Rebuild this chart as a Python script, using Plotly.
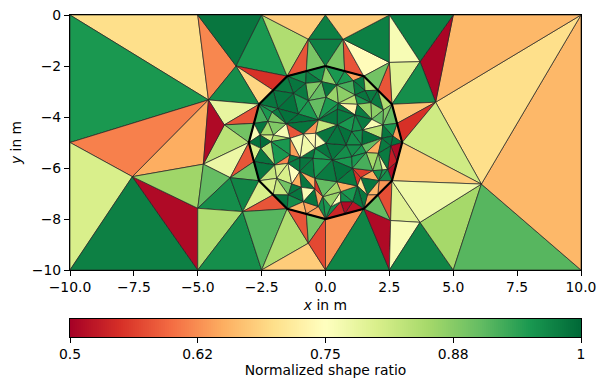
import plotly.graph_objects as go
from plotly.colors import sample_colorscale

# mesh nodes, metres
boundary_nodes = {
    "c0": (-10, 0), "c1": (-5, 0), "c2": (-2.5, 0), "c3": (0, 0), "c4": (2.5, 0), "c5": (5, 0), "c6": (10, 0),
    "c7": (10, -10), "c8": (5, -10), "c9": (2.5, -10), "c10": (0, -10), "c11": (-2.5, -10), "c12": (-5, -10),
    "c13": (-10, -10), "c14": (-10, -5),
}
outer_nodes = {
    "A": (-4.58, -3.33), "B": (-3.5, -2.0), "C": (-0.67, -0.95), "C2": (0.69, -0.95),
    "D": (-7.56, -6.34), "E": (-4.78, -5.85), "F": (-3.96, -4.31), "G": (-3.73, -6.38), "H": (-5.0, -7.58),
    "J": (-3.24, -7.71), "K": (-0.67, -8.95), "L": (2.55, -8.06), "O": (3.7, -8.13), "Q": (6.1, -6.63),
    "R": (4.31, -3.42), "S": (3.7, -1.83), "T": (2.5, -1.86),
}
circle_nodes = {
    "P0": (0, -2), "M1": (0.75, -2.2), "P1": (1.5, -2.4), "M2": (2.05, -2.95), "P2": (2.6, -3.5), "M3": (2.8, -4.25),
    "P3": (3, -5), "M4": (2.8, -5.75), "P4": (2.6, -6.5), "M5": (2.05, -7.05), "P5": (1.5, -7.6), "M6": (0.75, -7.8),
    "P6": (0, -8), "M7": (-0.75, -7.8), "P7": (-1.5, -7.6), "M8": (-2.05, -7.05), "P8": (-2.6, -6.5), "M9": (-2.8, -5.75),
    "P9": (-3, -5), "M10": (-2.8, -4.25), "P10": (-2.6, -3.5), "M11": (-2.05, -2.95), "P11": (-1.5, -2.4), "M0": (-0.75, -2.2),
}
inner_nodes = {
    "i1": (-0.775, -2.68), "i2": (-0.149, -2.615), "i3": (0.438, -2.745), "i4": (1.091, -2.575), "i5": (1.548, -2.967),
    "i6": (-1.258, -3.072), "i7": (-0.671, -3.36), "i8": (0.021, -3.229), "i9": (0.504, -3.464), "i10": (1.156, -3.137),
    "i11": (1.77, -3.438), "i12": (2.266, -3.726), "i13": (-1.858, -3.673), "i14": (-1.062, -3.882), "i15": (-0.279, -4.118),
    "i16": (0.465, -3.699), "i17": (1.156, -3.922), "i17a": (1.248, -3.503), "i18a": (1.809, -4.091), "i19": (2.239, -4.314),
    "i19b": (2.631, -4.745), "i20": (-2.25, -4.17), "i20b": (-2.093, -3.804), "i22": (-1.532, -4.261), "i23": (-2.041, -4.706),
    "i24": (0.465, -4.314), "i25": (1.443, -4.51), "i25b": (1.026, -4.575), "i26": (0.804, -5.098), "i27": (0.021, -5.033),
    "i27a": (-0.41, -5.229), "i28": (2.2, -4.836), "i30": (-2.563, -4.706), "i31": (-2.132, -4.967), "i33": (-1.389, -4.836),
    "i33b": (-1.389, -5.49), "i34": (-0.866, -4.667), "i34b": (-0.997, -5.595), "i34c": (-1.01, -6.143), "i35": (-0.384, -4.64),
    "i35p": (-0.488, -5.621), "i36": (0.269, -5.686), "i37": (1.026, -5.555), "i37a": (1.417, -5.098), "i37b": (1.587, -5.398),
    "i38a": (2.07, -5.425), "i39": (2.553, -5.137), "i40": (-2.537, -5.229), "i41": (-1.989, -5.882), "i42": (-1.467, -5.817),
    "i43": (-0.423, -6.405), "i44": (0.438, -6.536), "i45": (1.052, -6.013), "i46": (1.848, -6.104), "i46b": (2.226, -6.078),
    "i47p": (2.435, -6.052), "i48": (-1.91, -6.405), "i49": (-1.323, -6.627), "i50": (-0.423, -6.823), "i51": (-0.945, -6.758),
    "i52": (-0.11, -7.124), "i53": (0.595, -6.928), "i54": (1.378, -6.379), "i55": (2.096, -6.496), "i56": (1.639, -7.058),
    "i58": (0.595, -7.32), "i59": (1.248, -6.705), "i60": (1.065, -7.32), "i61": (0.204, -7.516), "k1": (-1.454, -7.058),
    "k2": (-0.866, -7.32), "k4": (-0.279, -7.516),
}

# triangles: three nodes and the shape ratio
outer_triangles = [
    ("c0","c1","A",.70), ("c0","A","c14",.95), ("c14","A","D",.615), ("A","D","E",.65), ("c14","D","c13",.80),
    ("D","c13","c12",.975), ("D","c12","H",.51), ("D","E","H",.855), ("c1","B","A",.62), ("c1","c2","B",.985),
    ("c2","B","P11",.95), ("c2","C","P11",.84), ("c2","c3","C",.68), ("C","P11","M0",.58), ("C","M0","P0",.885),
    ("C","C2","P0",.975), ("c3","C","C2",.975), ("C2","P0","M1",.885),
    ("C2","M1","P1",.58), ("C2","P1","T",.745), ("C2","c4","T",.975), ("c3","C2","c4",.68),
    ("B","P11","M11",.55), ("B","M11","P10",.69), ("B","P10","A",.96), ("A","P10","F",.78), ("F","P10","M10",.58),
    ("F","M10","P9",.89), ("F","P9","E",.83), ("A","F","E",.51), ("E","P9","G",.775), ("P9","G","M9",.58),
    ("G","M9","P8",.89), ("E","G","H",.90), ("G","H","J",.96), ("G","J","P8",.97), ("H","J","c12",.84),
    ("J","c12","c11",.96), ("J","P8","M8",.80), ("J","M8","P7",.58), ("J","P7","c11",.91), ("c11","P7","K",.84),
    ("c11","K","c10",.68), ("P7","K","M7",.58), ("M7","K","P6",.885), ("K","P6","c10",.57), ("P6","c10","P5",.63),
    ("c10","c9","P5",.97), ("P5","c9","L",.51), ("P5","L","M5",.90), ("M5","L","P4",.575), ("P4","L","O",.79),
    ("L","O","c9",.76), ("O","c9","c8",.97), ("O","c8","Q",.85), ("c8","Q","c7",.91), ("Q","c7","c6",.66),
    ("Q","c6","R",.70), ("R","c6","c5",.66), ("R","c5","S",.505), ("c4","c5","S",.975), ("c4","S","T",.76),
    ("T","S","P2",.79), ("S","R","P2",.96), ("T","P2","M2",.58), ("P1","T","M2",.89), ("P2","R","M3",.675),
    ("M3","R","P3",.55), ("P3","R","Q",.81), ("P3","Q","P4",.68), ("P4","Q","O",.77),
]
inner_triangles = [
    ("P11","M0","i1",.96), ("M0","P0","i2",.96), ("M0","i2","i1",.98), ("P0","i3","i2",.87), ("P0","M1","i3",.95),
    ("M1","i4","i3",.95), ("M1","P1","i4",.64), ("P1","i5","i4",.98), ("P1","M2","i5",.84), ("M2","i11","i5",.98),
    ("M2","i12","i11",.98), ("M2","P2","i12",.84), ("P2","M3","i19",.90), ("P2","i19","i12",.88),
    ("P11","i1","i6",.985), ("M11","P11","i6",.98), ("i1","i2","i7",.88), ("i2","i8","i7",.90), ("i2","i3","i8",.985),
    ("i3","i9","i8",.86), ("i3","i4","i10",.92), ("i3","i10","i9",.87), ("i4","i5","i10",.98), ("i5","i11","i10",.985),
    ("i1","i7","i6",.98), ("M11","i6","i13",.985), ("P10","M11","i13",.985), ("i6","i7","i14",.95), ("i6","i14","i13",.99),
    ("i7","i8","i15",.90), ("i7","i15","i14",.95), ("i8","i9","i15",.95), ("i9","i16","i15",.96), ("i9","i10","i17a",.83),
    ("i9","i17a","i17",.73), ("i9","i17","i16",.98), ("i10","i11","i17a",.95), ("i11","i12","i18a",.87), ("i17a","i11","i18a",.86),
    ("i17a","i18a","i17",.98), ("i12","i19","i18a",.90), ("i18a","i19","i25",.76), ("i25","i19","i28",.83), ("i17","i18a","i25",.98),
    ("M3","i19b","P3",.64), ("M3","i19","i19b",.95), ("i19","i28","i19b",.985), ("i19b","i39","P3",.99), ("i19b","i28","i39",.985),
    ("P3","M4","i39",.51), ("M4","P4","i47p",.51), ("M4","i47p","i39",.53),
    ("i15","i16","i24",.985), ("i16","i17","i24",.98), ("i17","i25b","i24",.95), ("i17","i25","i25b",.96), ("i24","i25b","i26",.99),
    ("i25","i28","i37a",.99), ("i25b","i25","i37a",.96), ("i25b","i37a","i26",.96), ("i28","i37b","i37a",.90), ("i28","i38a","i37b",.65),
    ("i28","i39","i38a",.98), ("i37a","i37b","i37",.95), ("i26","i37a","i37",.96), ("i37b","i38a","i46",.85), ("i38a","i46b","i46",.88),
    ("i38a","i47p","i46b",.78), ("i38a","i39","i47p",.98), ("i45","i46","i54",.56), ("i45","i54","i59",.55), ("i54","i46","i55",.65),
    ("i46","i46b","i55",.96), ("i46b","i47p","i55",.95), ("i47p","P4","i55",.96), ("i54","i55","i56",.985), ("i54","i56","i59",.70),
    ("i55","P4","M5",.63), ("i55","M5","i56",.66), ("M5","P5","i56",.64), ("i59","i56","P5",.985), ("i59","P5","i60",.985),
    ("i60","P5","M6",.52), ("i60","M6","i58",.51), ("i58","M6","P6",.54), ("i61","i58","P6",.96), ("i52","i61","P6",.95),
    ("i53","i58","i61",.76), ("i52","i53","i61",.86), ("i53","i60","i58",.96), ("i53","i59","i60",.95), ("i44","i59","i53",.65),
    ("i44","i45","i59",.98), ("i44","i53","i52",.85), ("i43","i44","i52",.90), ("i36","i37","i45",.95), ("i36","i45","i44",.99),
    ("i26","i37","i36",.96), ("i27","i26","i36",.985), ("i37","i37b","i45",.95), ("i37b","i46","i45",.92), ("i24","i26","i27",.985),
    ("i14","i15","i22",.99), ("i22","i15","i34",.985), ("i15","i35","i34",.63), ("i15","i24","i35",.82), ("i35","i24","i27",.985),
    ("i35","i27","i27a",.76), ("i27","i36","i27a",.985), ("i27a","i36","i35p",.95), ("i27a","i35p","i34b",.985), ("i34","i35","i27a",.74),
    ("i34","i27a","i34b",.77), ("i22","i34","i33",.58), ("i33","i34","i34b",.76), ("i33","i34b","i33b",.64), ("i22","i33","i23",.76),
    ("i20","i22","i23",.88), ("i23","i33","i31",.84), ("i31","i33","i33b",.95), ("i31","i33b","i41",.95), ("i31","i41","i40",.82),
    ("i33b","i42","i41",.62), ("i33b","i34b","i42",.98), ("M10","P10","i20",.92), ("P10","i13","i20b",.95), ("P10","i20b","i20",.95),
    ("i20","i20b","i22",.88), ("i20b","i13","i22",.98), ("i13","i14","i22",.99), ("M10","i20","i30",.985), ("i20","i23","i30",.85),
    ("i30","i23","i31",.80), ("i30","i31","i40",.995), ("P9","M10","i30",.76), ("P9","i30","i40",.99), ("P9","i40","M9",.80),
    ("M9","i40","i41",.985), ("M9","i41","P8",.985), ("P8","i41","i48",.82), ("i41","i42","i48",.80), ("i42","i49","i48",.80),
    ("i42","i34c","i49",.75), ("i42","i34b","i34c",.98), ("i34b","i35p","i34c",.985), ("i34c","i35p","i43",.98), ("i35p","i36","i43",.95),
    ("i36","i44","i43",.98), ("i43","i52","i50",.55), ("i34c","i43","i50",.65), ("i49","i34c","i51",.65), ("i34c","i50","i51",.985),
    ("P8","i48","M8",.80), ("i48","i49","k1",.89), ("i48","k1","M8",.82), ("M8","k1","P7",.985), ("k1","i49","i51",.985),
    ("k1","i51","k2",.985), ("k1","k2","P7",.96), ("P7","k2","M7",.66), ("k2","k4","M7",.64), ("i51","i50","k2",.76),
    ("i50","k4","k2",.985), ("i50","i52","k4",.64), ("i52","P6","k4",.96), ("k4","P6","M7",.64),
]
circle_outline = ["P0","P1","P2","P3","P4","P5","P6","P7","P8","P9","P10","P11","P0"]

x_ticks = [-10, -7.5, -5, -2.5, 0, 2.5, 5, 7.5, 10]
x_labels = ["\u221210.0", "\u22127.5", "\u22125.0", "\u22122.5", "0.0", "2.5", "5.0", "7.5", "10.0"]
y_ticks = [0, -2, -4, -6, -8, -10]
y_labels = ["0", "\u22122", "\u22124", "\u22126", "\u22128", "\u221210"]
cbar_ticks = [0.5, 0.625, 0.75, 0.875, 1]
cbar_labels = ["0.5", "0.62", "0.75", "0.88", "1"]
ratio_min, ratio_max = 0.5, 1.0
cbar_levels = [ratio_min + (ratio_max - ratio_min) * i / 255 for i in range(256)]  # colour-bar ramp

nodes = {**boundary_nodes, **outer_nodes, **circle_nodes, **inner_nodes}
fig = go.Figure()
for a, b, c, v in outer_triangles + inner_triangles:
    col = sample_colorscale("RdYlGn", [(v - ratio_min) / (ratio_max - ratio_min)])[0]
    fig.add_trace(go.Scatter(
        x=[nodes[a][0], nodes[b][0], nodes[c][0], nodes[a][0]],
        y=[nodes[a][1], nodes[b][1], nodes[c][1], nodes[a][1]],
        mode="lines", fill="toself", fillcolor=col,
        line=dict(color="#222222", width=0.7), hoverinfo="skip", showlegend=False))
fig.add_trace(go.Scatter(
    x=[nodes[n][0] for n in circle_outline], y=[nodes[n][1] for n in circle_outline],
    mode="lines", line=dict(color="black", width=2.2), hoverinfo="skip", showlegend=False))
fig.add_trace(go.Heatmap(
    x=cbar_levels, y=[0, 1], z=[cbar_levels, cbar_levels], xaxis="x2", yaxis="y2",
    colorscale="RdYlGn", zmin=ratio_min, zmax=ratio_max, showscale=False, hoverinfo="skip"))

axis_font = dict(family="DejaVu Sans", size=13.9, color="black")
common = dict(showgrid=False, zeroline=False, showline=True, mirror=True, linecolor="black", linewidth=1.1,
              ticks="outside", ticklen=5, tickwidth=1, tickcolor="black", tickfont=axis_font, automargin=False)
# plot area spans 322 px: mesh panel on top, colour bar at the bottom
fig.update_layout(
    width=605, height=389, autosize=False, margin=dict(l=70, r=24, t=15, b=52, autoexpand=False),
    plot_bgcolor="white", paper_bgcolor="white", font=axis_font,
    xaxis=dict(range=[-10, 10], tickvals=x_ticks, ticktext=x_labels, anchor="y", ticklabelstandoff=-1,
               title=dict(text="<i>x</i> in m", font=axis_font, standoff=6), **common),
    yaxis=dict(range=[-10, 0], domain=[67 / 322, 1], tickvals=y_ticks, ticktext=y_labels, anchor="x",
               title=dict(text="<i>y</i> in m", font=axis_font, standoff=6), **common),
    xaxis2=dict(range=[ratio_min, ratio_max], tickvals=cbar_ticks, ticktext=cbar_labels, anchor="y2", ticklabelstandoff=-1,
                title=dict(text="Normalized shape ratio", font=axis_font, standoff=4), **common),
    yaxis2=dict(range=[0, 1], domain=[0, 18.5 / 322], anchor="x2", showticklabels=False, showgrid=False,
                zeroline=False, showline=True, mirror=True, linecolor="black", linewidth=1.1, ticks=""),
)
fig.write_html("out.html", config={"displayModeBar": False},
               post_script="document.body.style.margin='0';")
